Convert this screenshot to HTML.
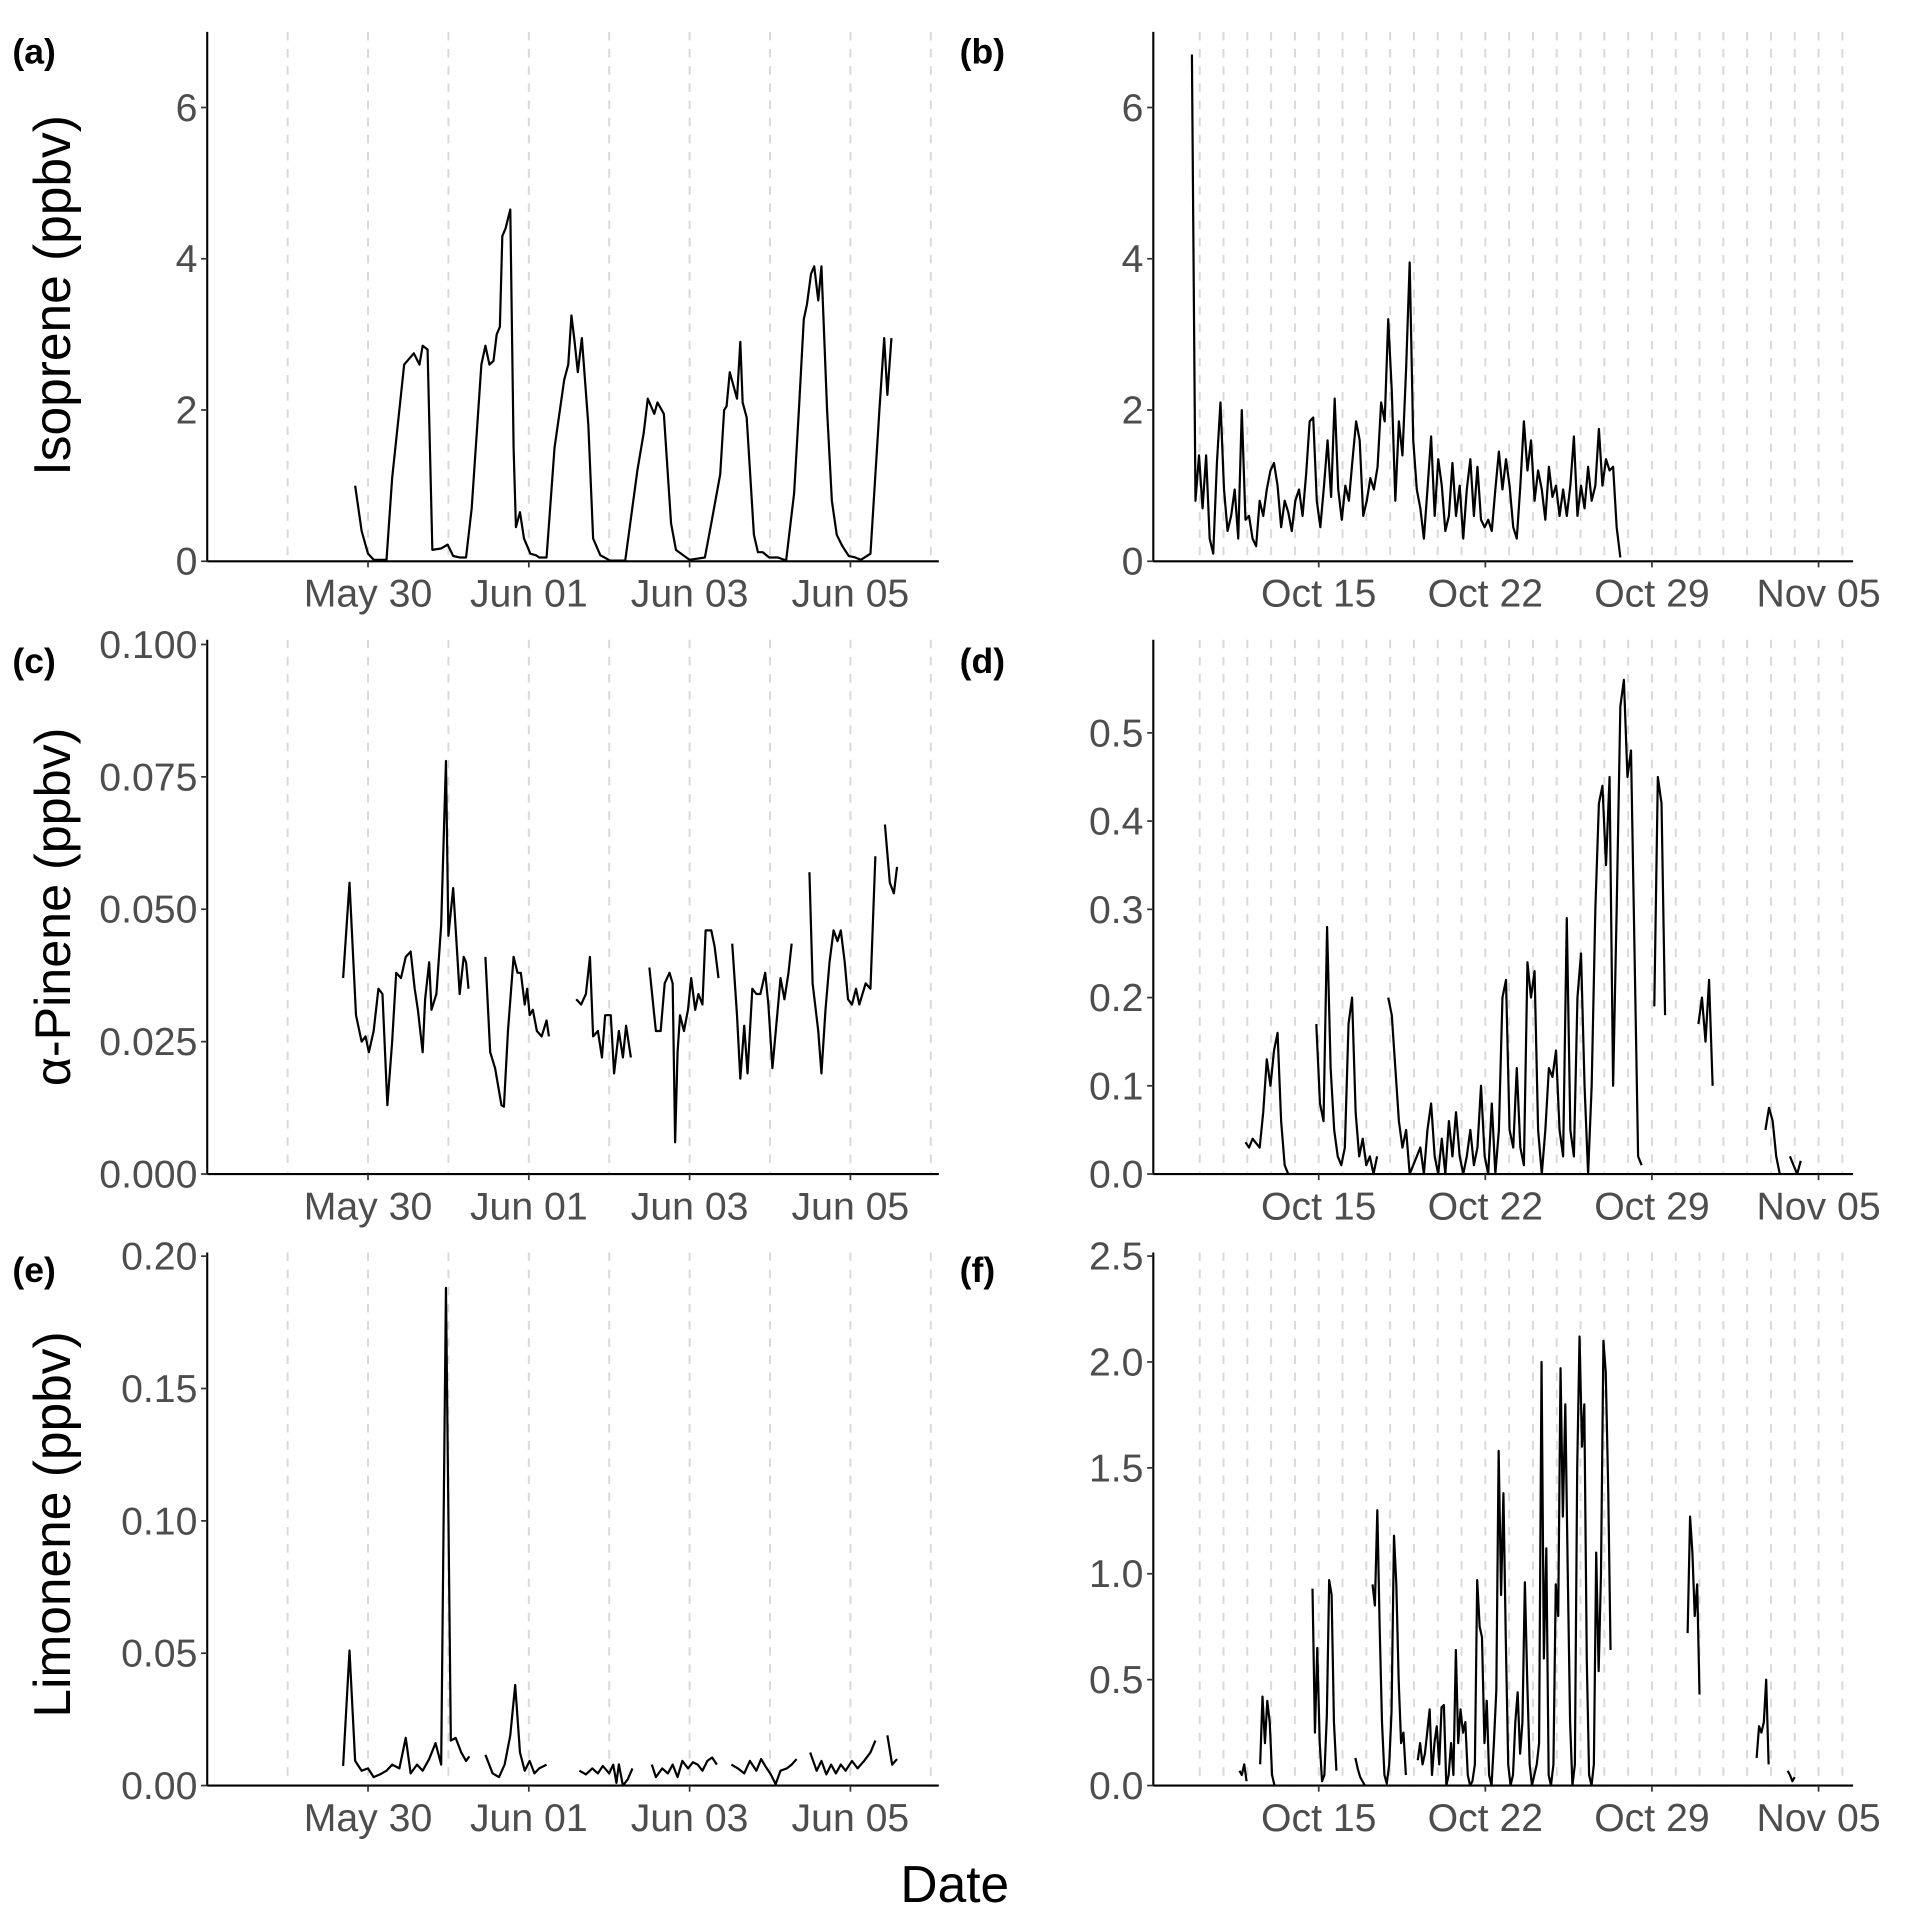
<!DOCTYPE html>
<html><head><meta charset="utf-8"><title>VOC time series</title>
<style>
html,body{margin:0;padding:0;background:#fff;}
svg{display:block;}
text{font-family:"Liberation Sans",Arial,sans-serif;}
</style></head>
<body>
<svg id="chart" xmlns="http://www.w3.org/2000/svg" width="1912" height="1913" viewBox="0 0 1560 1561"></svg>
<script>
// ---------- data ----------
// Left panels: time in days since May 28 00:00
const leftTickLabels = ["May 30","Jun 01","Jun 03","Jun 05"];
const leftTickDays = [2,4,6,8];
const leftGridDays = [1,2,3,4,5,6,7,8,9];
// Right panels: time in days since Oct 10 00:00
const rightTickLabels = ["Oct 15","Oct 22","Oct 29","Nov 05"];
const rightTickDays = [5,12,19,26];
const rightGridDays = [0,1,2,3,4,5,6,7,8,9,10,11,12,13,14,15,16,17,18,19,20,21,22,23,24,25,26,27];

const isoTicks = [0,2,4,6];
const pinTicksC = [0,0.025,0.05,0.075,0.1];
const pinTickLabelsC = ["0.000","0.025","0.050","0.075","0.100"];
const pinTicksD = [0,0.1,0.2,0.3,0.4,0.5];
const pinTickLabelsD = ["0.0","0.1","0.2","0.3","0.4","0.5"];
const limTicksE = [0,0.05,0.1,0.15,0.2];
const limTickLabelsE = ["0.00","0.05","0.10","0.15","0.20"];
const limTicksF = [0,0.5,1,1.5,2,2.5];
const limTickLabelsF = ["0.0","0.5","1.0","1.5","2.0","2.5"];

// (a) Isoprene, spring
const aT = [1.84,1.92,2.00,2.07,2.23,2.30,2.45,2.57,2.64,2.68,2.74,2.80,2.91,2.99,3.06,3.14,3.22,3.29,3.41,3.46,3.51,3.56,3.60,3.64,3.67,3.71,3.77,3.81,3.84,3.89,3.94,4.02,4.09,4.13,4.22,4.32,4.44,4.49,4.53,4.57,4.61,4.66,4.74,4.80,4.89,5.01,5.20,5.35,5.43,5.48,5.56,5.60,5.68,5.77,5.83,5.92,6.00,6.19,6.27,6.38,6.43,6.46,6.50,6.59,6.63,6.66,6.71,6.80,6.85,6.91,6.99,7.10,7.20,7.30,7.36,7.42,7.46,7.51,7.55,7.60,7.64,7.71,7.77,7.83,7.90,7.98,8.06,8.13,8.25,8.36,8.42,8.46,8.51];
const aV = [1.0,0.4,0.1,0.02,0.02,1.1,2.6,2.75,2.6,2.85,2.8,0.15,0.17,0.22,0.07,0.05,0.05,0.7,2.6,2.85,2.6,2.65,3.0,3.1,4.3,4.4,4.65,1.5,0.45,0.65,0.3,0.1,0.08,0.05,0.05,1.5,2.4,2.6,3.25,2.9,2.5,2.95,1.8,0.3,0.08,0.01,0.01,1.2,1.7,2.15,1.95,2.1,1.95,0.5,0.15,0.08,0.02,0.05,0.5,1.15,2.0,2.05,2.5,2.15,2.9,2.1,1.9,0.35,0.12,0.12,0.05,0.05,0.01,0.9,2.0,3.2,3.4,3.8,3.9,3.45,3.9,2.0,0.8,0.35,0.2,0.07,0.05,0.02,0.1,2.0,2.95,2.2,2.95];

// (c) alpha-pinene, spring (null = gap)
const cT = [1.69,1.77,1.85,1.92,1.97,2.01,2.07,2.13,2.18,2.24,2.30,2.35,2.41,2.47,2.53,2.58,2.62,2.68,2.71,2.76,2.79,2.85,2.91,2.97,3.00,3.06,3.14,3.19,3.22,3.25,null,
 3.46,3.52,3.58,3.66,3.69,3.74,3.81,3.86,3.90,3.95,3.98,4.01,4.05,4.10,4.16,4.22,4.25,null,
 4.59,4.65,4.71,4.76,4.80,4.86,4.91,4.95,5.02,5.06,5.12,5.17,5.21,5.27,null,
 5.50,5.58,5.64,5.69,5.75,5.79,5.82,5.85,5.88,5.93,5.98,6.02,6.07,6.11,6.16,6.20,6.27,6.31,6.36,null,
 6.53,6.59,6.63,6.68,6.72,6.78,6.83,6.88,6.94,6.98,7.03,7.09,7.13,7.18,7.23,7.27,null,
 7.49,7.53,7.60,7.64,7.69,7.74,7.79,7.84,7.88,7.93,7.97,8.02,8.07,8.11,8.19,8.25,8.31,null,
 8.43,8.49,8.54,8.58];
const cV = [.037,.055,.030,.025,.026,.023,.027,.035,.034,.013,.025,.038,.037,.041,.042,.035,.031,.023,.033,.040,.031,.034,.047,.078,.045,.054,.034,.041,.040,.035,null,
 .041,.023,.020,.013,.0127,.027,.041,.038,.038,.032,.035,.030,.031,.027,.026,.029,.026,null,
 .033,.032,.034,.041,.026,.027,.022,.030,.030,.019,.027,.022,.028,.022,null,
 .039,.027,.027,.036,.038,.036,.006,.023,.030,.027,.031,.037,.031,.034,.032,.046,.046,.043,.037,null,
 .0435,.030,.018,.028,.019,.035,.034,.034,.038,.032,.020,.030,.037,.033,.038,.0435,null,
 .057,.036,.027,.019,.031,.040,.046,.044,.046,.040,.033,.032,.035,.032,.036,.035,.060,null,
 .066,.055,.053,.058];

// (e) limonene, spring
const eT = [1.69,1.77,1.84,1.92,2.00,2.07,2.15,2.23,2.30,2.39,2.47,2.53,2.61,2.68,2.76,2.84,2.91,2.97,3.03,3.09,3.16,3.22,3.26,null,
 3.46,3.55,3.63,3.70,3.77,3.83,3.89,3.95,4.01,4.07,4.13,4.22,null,
 4.63,4.71,4.79,4.86,4.92,5.00,5.05,5.09,5.12,5.17,5.23,5.29,null,
 5.53,5.58,5.66,5.73,5.79,5.85,5.91,5.98,6.04,6.10,6.16,6.22,6.28,6.34,null,
 6.52,6.60,6.68,6.75,6.83,6.89,6.95,7.01,7.07,7.13,7.21,7.27,7.33,null,
 7.50,7.58,7.64,7.70,7.76,7.82,7.88,7.94,8.02,8.09,8.17,8.25,8.31,null,
 8.46,8.52,8.58];
const eV = [.0074,.051,.0093,.0056,.0065,.0032,.0042,.0056,.0079,.0065,.018,.0046,.0079,.0056,.010,.016,.0079,.188,.017,.018,.0125,.0093,.011,null,
 .0116,.0046,.0032,.0079,.019,.038,.0125,.0056,.0093,.0046,.0065,.0079,null,
 .0056,.0042,.0065,.0046,.0074,.0046,.0079,.001,.008,0,.0023,.0065,null,
 .0079,.0032,.0065,.0046,.0079,.0032,.0093,.0065,.0088,.0079,.0056,.0093,.0106,.0079,null,
 .0079,.0065,.0046,.0093,.0056,.010,.0069,.0042,.0005,.0056,.0065,.0079,.010,null,
 .0125,.0056,.0093,.0042,.0079,.0046,.0079,.0056,.0093,.0065,.0093,.0125,.017,null,
 .019,.0079,.010];

// (b) isoprene, autumn: regularly sampled
const bStart = -0.33;
const bStep = 0.15;
const bV = [6.7,0.8,1.4,0.7,1.4,0.3,0.1,1.3,2.1,0.95,0.4,0.6,0.95,0.3,2.0,0.55,0.6,0.3,0.2,0.8,0.6,0.95,1.2,1.3,1.0,0.45,0.8,0.65,0.4,0.8,0.95,0.6,1.15,1.85,1.9,0.8,0.45,1.0,1.6,0.85,2.15,0.95,0.55,1.0,0.8,1.35,1.85,1.6,0.6,0.8,1.1,0.95,1.25,2.1,1.85,3.2,2.25,0.8,1.85,1.4,2.55,3.95,1.6,0.95,0.7,0.3,0.95,1.65,0.6,1.35,1.0,0.4,0.6,1.3,0.6,1.0,0.3,0.95,1.35,0.6,1.25,0.55,0.45,0.55,0.4,0.95,1.45,0.95,1.35,1.0,0.45,0.3,1.0,1.85,1.2,1.6,0.8,1.2,0.95,0.55,1.25,0.85,1.0,0.6,0.95,0.6,1.0,1.65,0.6,1.0,0.7,1.25,0.8,1.0,1.75,1.0,1.35,1.2,1.25,0.45,0.05];

// (d) alpha-pinene, autumn: segments (start day + regular samples)
const dStep = 0.15;
const dStarts = [1.92,4.90,7.92,19.1,20.95,23.77,24.8];
const dSeg1 = [.036,.03,.04,.035,.03,.07,.13,.1,.14,.16,.06,.01,0];
const dSeg2 = [.17,.08,.06,.28,.12,.05,.02,.01,.03,.17,.2,.07,.02,.04,.01,.02,0,.02];
const dSeg3 = [.2,.18,.12,.06,.03,.05,0,.01,.02,.03,0,.05,.08,.02,0,.04,0,.06,.02,.07,.02,0,.02,.05,.01,.03,.1,.02,0,.08,0,.05,.2,.22,.05,.03,.12,.03,.01,.24,.2,.23,.05,0,.05,.12,.11,.14,.05,.02,.29,.05,.02,.2,.25,.1,0,.1,.3,.42,.44,.35,.45,.1,.3,.53,.56,.45,.48,.25,.02,.01];
const dSeg4 = [.19,.45,.42,.18];
const dSeg5 = [.17,.2,.15,.22,.1];
const dSeg6 = [.05,.075,.06,.02,0];
const dSeg7 = [.02,.01,0,.015];

// (f) limonene, autumn
const fStep = 0.1;
const fStarts = [1.67,2.54,4.74,6.54,7.26,9.16,20.5,23.4,24.7];
const fSeg1 = [.07,.05,.1,.02];
const fSeg2 = [.1,.42,.2,.4,.3,.05,0];
const fSeg3 = [.93,.25,.65,.2,.02,.05,.33,.97,.9,.3,.07];
const fSeg4 = [.13,.08,.04,.02,0];
const fSeg5 = [.95,.85,1.3,.75,.3,.05,.01,.1,.35,1.18,.95,.5,.2,.25,.05];
const fSeg6 = [.12,.2,.1,.15,.25,.36,.05,.2,.28,.1,.37,.38,0,.05,.2,.05,.64,.2,.36,.25,.3,.05,0,.02,.1,.97,.75,.7,.2,.4,.05,0,.2,.45,1.58,.9,1.38,.7,.1,0,.05,.3,.44,.15,.3,.96,.5,.1,0,.05,.1,.2,2.0,.6,1.12,.05,0,.1,.95,.8,1.97,1.27,1.8,1.04,.3,0,.1,1.5,2.12,1.6,1.8,.6,.05,0,.1,1.1,.54,1.0,2.1,1.95,1.4,.64];
const fSeg7 = [.72,1.27,1.1,.8,.95,.43];
const fSeg8 = [.13,.28,.25,.3,.5,.1];
const fSeg9 = [.07,.05,.02,.04];

// ---------- drawing ----------
const NS = "http://www.w3.org/2000/svg";
const svg = document.getElementById("chart");
function mk(tag, attrs, parent){
  const el = document.createElementNS(NS, tag);
  for (const k in attrs) el.setAttribute(k, attrs[k]);
  (parent||svg).appendChild(el);
  return el;
}
const LEFT = {x0:169, x1:766, dmin:0, dmax:9.10, ticks:leftTickDays, labels:leftTickLabels, grid:leftGridDays};
const RIGHT = {x0:941, x1:1512, dmin:-1.95, dmax:27.45, ticks:rightTickDays, labels:rightTickLabels, grid:rightGridDays};
const ROWS = [{top:26,bot:458},{top:522,bot:958},{top:1022,bot:1457}];
const TICK_FONT = 32;

function panel(name, col, row, ymax, yTicks, yLabels){
  const g = mk("g", {});
  
  
  const sx = d => col.x0 + (d - col.dmin) / (col.dmax - col.dmin) * (col.x1 - col.x0);
  const sy = v => row.bot - v / ymax * (row.bot - row.top);
  col.grid.forEach(d => {
    const l = mk("line", {x1:sx(d), x2:sx(d), y1:row.top, y2:row.bot, stroke:"#d9d9d9", "stroke-width":1.6, "stroke-dasharray":"7,7"}, g);
    
    
  });
  const ya = mk("line", {x1:col.x0, x2:col.x0, y1:row.top, y2:row.bot, stroke:"#000", "stroke-width":1.7}, g);
  
  
  const xa = mk("line", {x1:col.x0, x2:col.x1, y1:row.bot, y2:row.bot, stroke:"#000", "stroke-width":1.7}, g);
  
  
  yTicks.forEach((v,i) => {
    mk("line", {x1:col.x0-5, x2:col.x0, y1:sy(v), y2:sy(v), stroke:"#333", "stroke-width":1.4}, g);
    const t = mk("text", {x:col.x0-8, y:sy(v)+11, "text-anchor":"end", "font-size":TICK_FONT, fill:"#4d4d4d"}, g);
    
    
    t.textContent = yLabels[i];
  });
  col.ticks.forEach((d,i) => {
    mk("line", {x1:sx(d), x2:sx(d), y1:row.bot, y2:row.bot+5, stroke:"#333", "stroke-width":1.4}, g);
    const t = mk("text", {x:sx(d), y:row.bot+37, "text-anchor":"middle", "font-size":TICK_FONT, fill:"#4d4d4d"}, g);
    
    
    t.textContent = col.labels[i];
  });
  return {g, sx, sy};
}
function drawXY(p, T, V){
  let d = "", pen = false;
  for (let i=0;i<T.length;i++){
    if (T[i]===null || V[i]===null){ pen=false; continue; }
    d += (pen?"L":"M") + p.sx(T[i]).toFixed(1) + "," + p.sy(V[i]).toFixed(1);
    pen = true;
  }
  const path = mk("path", {d, fill:"none", stroke:"#000", "stroke-width":1.8, "stroke-linejoin":"round"}, p.g);
  
  
}
function drawRegular(p, start, step, V){
  const T = V.map((v,i) => start + i*step);
  drawXY(p, T, V);
}
function txt(name, attrs, s){
  const t = mk("text", attrs);
  
  
  t.textContent = s;
  return t;
}

const pa = panel("panel-a", LEFT, ROWS[0], 7.0, isoTicks, isoTicks.map(String));
drawXY(pa, aT, aV);
const pb = panel("panel-b", RIGHT, ROWS[0], 7.0, isoTicks, isoTicks.map(String));
drawRegular(pb, bStart, bStep, bV);
const pc = panel("panel-c", LEFT, ROWS[1], 0.1009, pinTicksC, pinTickLabelsC);
drawXY(pc, cT, cV);
const pd = panel("panel-d", RIGHT, ROWS[1], 0.6056, pinTicksD, pinTickLabelsD);
[dSeg1,dSeg2,dSeg3,dSeg4,dSeg5,dSeg6,dSeg7].forEach((s,i) => drawRegular(pd, dStarts[i], dStep, s));
const pe = panel("panel-e", LEFT, ROWS[2], 0.2014, limTicksE, limTickLabelsE);
drawXY(pe, eT, eV);
const pf = panel("panel-f", RIGHT, ROWS[2], 2.517, limTicksF, limTickLabelsF);
[fSeg1,fSeg2,fSeg3,fSeg4,fSeg5,fSeg6,fSeg7,fSeg8,fSeg9].forEach((s,i) => drawRegular(pf, fStarts[i], fStep, s));

// panel letters
txt("panel-label-a", {x:10, y:52, "font-size":29, "font-weight":"bold", fill:"#000"}, "(a)");
txt("panel-label-b", {x:783, y:52, "font-size":29, "font-weight":"bold", fill:"#000"}, "(b)");
txt("panel-label-c", {x:10, y:549, "font-size":29, "font-weight":"bold", fill:"#000"}, "(c)");
txt("panel-label-d", {x:783, y:549, "font-size":29, "font-weight":"bold", fill:"#000"}, "(d)");
txt("panel-label-e", {x:10, y:1046, "font-size":29, "font-weight":"bold", fill:"#000"}, "(e)");
txt("panel-label-f", {x:783, y:1046, "font-size":29, "font-weight":"bold", fill:"#000"}, "(f)");
// axis titles
txt("y-axis-title-isoprene", {x:0, y:0, "font-size":42, "text-anchor":"middle", fill:"#000", transform:"translate(57,241) rotate(-90)"}, "Isoprene (ppbv)");
txt("y-axis-title-pinene", {x:0, y:0, "font-size":41, "text-anchor":"middle", fill:"#000", transform:"translate(57,740) rotate(-90)"}, "α-Pinene (ppbv)");
txt("y-axis-title-limonene", {x:0, y:0, "font-size":42, "text-anchor":"middle", fill:"#000", transform:"translate(57,1244) rotate(-90)"}, "Limonene (ppbv)");
txt("x-axis-title", {x:779, y:1552, "font-size":42, "text-anchor":"middle", fill:"#000"}, "Date");
</script>
</body></html>
